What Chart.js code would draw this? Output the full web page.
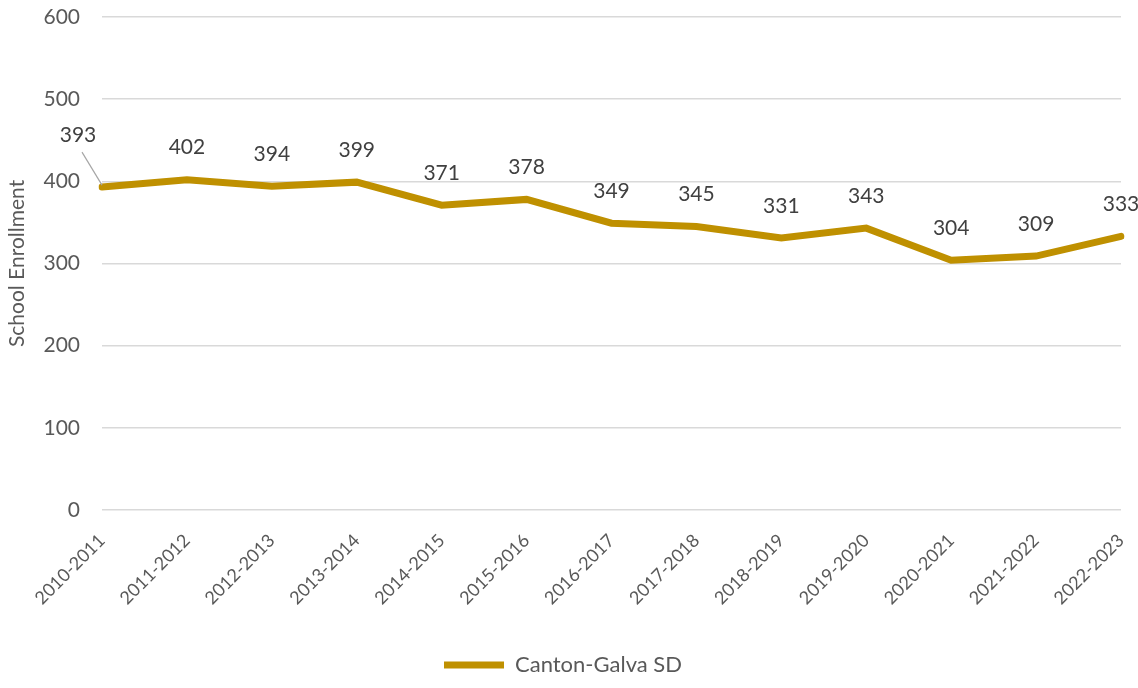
<!DOCTYPE html>
<html>
<head>
<meta charset="utf-8">
<script src="https://cdn.jsdelivr.net/npm/chart.js@4"></script>
<style>
  html, body { margin: 0; padding: 0; background: #fff; }
  #wrap { width: 1138px; height: 688px; }
</style>
</head>
<body>
<div id="wrap"><canvas id="enrollChart" width="1138" height="688"></canvas></div>
<script>
const years = ['2010-2011', '2011-2012', '2012-2013', '2013-2014', '2014-2015', '2015-2016', '2016-2017',
    '2017-2018', '2018-2019', '2019-2020', '2020-2021', '2021-2022', '2022-2023'];
const enrollment = [393, 402, 394, 399, 371, 378, 349, 345, 331, 343, 304, 309, 333];
const seriesName = 'Canton-Galva SD';
const yTicks = [0, 100, 200, 300, 400, 500, 600];

const FONT = 'Lato, "Open Sans", sans-serif';

// value labels above each point; the first one sits off to the left with a leader line
const valueLabels = {
    id: 'valueLabels',
    afterDatasetsDraw(chart) {
        const ctx = chart.ctx;
        const meta = chart.getDatasetMeta(0);
        ctx.save();
        ctx.font = '21px ' + FONT;
        ctx.fillStyle = '#404040';
        ctx.textAlign = 'center';
        ctx.textBaseline = 'middle';
        meta.data.forEach((pt, i) => {
            const v = chart.data.datasets[0].data[i];
            if (i === 0) {
                const lx = pt.x - 24, ly = pt.y - 52;
                ctx.fillText(String(v), lx, ly);
                ctx.strokeStyle = '#a6a6a6';
                ctx.lineWidth = 1.2;
                ctx.beginPath();
                ctx.moveTo(lx + 4, ly + 17);
                ctx.lineTo(pt.x, pt.y - 2);
                ctx.stroke();
            } else {
                ctx.fillText(String(v), pt.x, pt.y - 32);
            }
        });
        ctx.restore();
    }
};

const ctx = document.getElementById('enrollChart').getContext('2d');
new Chart(ctx, {
    type: 'line',
    data: {
        labels: years,
        datasets: [{
            label: seriesName,
            data: enrollment,
            borderColor: '#bf9000',
            backgroundColor: '#bf9000',
            borderWidth: 7,
            borderCapStyle: 'round',
            borderJoinStyle: 'miter',
            pointRadius: 0,
            tension: 0
        }]
    },
    options: {
        responsive: false,
        animation: false,
        layout: { padding: { left: 5, right: 17, top: 17, bottom: 2 } },
        plugins: {
            legend: {
                position: 'bottom',
                labels: {
                    usePointStyle: true,
                    pointStyle: 'line',
                    pointStyleWidth: 60,
                    color: '#595959',
                    font: { family: FONT, size: 22 },
                    padding: 16
                }
            },
            tooltip: { enabled: false }
        },
        scales: {
            x: {
                offset: false,
                grid: { display: false },
                border: { display: false },
                afterFit(axis) {
                    axis.paddingLeft = 0;
                    axis.paddingRight = 0;
                    axis.height += 17;
                },
                ticks: {
                    color: '#595959',
                    font: { family: FONT, size: 18 },
                    minRotation: 45,
                    maxRotation: 45,
                    padding: 12
                }
            },
            y: {
                min: 0,
                max: 600,
                afterBuildTicks(axis) {
                    axis.ticks = yTicks.map(v => ({ value: v }));
                },
                afterFit(axis) {
                    axis.paddingTop = 0;
                    axis.width = 97;
                },
                grid: { color: '#d9d9d9', lineWidth: 1.5, drawTicks: false },
                border: { display: false },
                ticks: {
                    color: '#595959',
                    font: { family: FONT, size: 21 },
                    padding: 22
                },
                title: {
                    display: true,
                    text: 'School Enrollment',
                    color: '#595959',
                    font: { family: FONT, size: 21 },
                    padding: { top: 0, bottom: 4 }
                }
            }
        }
    },
    plugins: [valueLabels]
});
</script>
</body>
</html>
